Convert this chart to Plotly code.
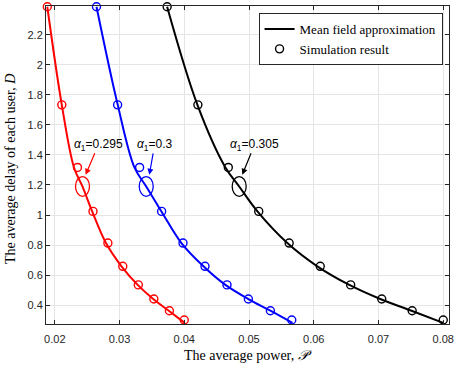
import plotly.graph_objects as go

# Simulation points (circles)
sim_delay = [2.388, 1.734, 1.317, 1.024, 0.813, 0.658, 0.534, 0.440, 0.362, 0.300]
sim_power_0295 = [0.01884, 0.02108, 0.0235, 0.0259, 0.0282, 0.0305, 0.0329, 0.0353, 0.0377, 0.0400]
sim_power_03 = [0.02644, 0.0297, 0.0331, 0.0365, 0.0398, 0.0432, 0.0466, 0.0499, 0.0533, 0.0566]
sim_power_0305 = [0.03735, 0.0421, 0.0468, 0.0515, 0.0562, 0.0610, 0.0657, 0.0705, 0.0752, 0.0800]

# Mean field approximation curves
mf_delay = [2.388, 1.734, 1.317, 1.190, 1.024, 0.813, 0.658, 0.534, 0.440, 0.362, 0.281]
mf_power_0295 = [0.01884, 0.02108, 0.02296, 0.02427, 0.02577, 0.0279, 0.0303, 0.0328, 0.0352, 0.0376, 0.04007]
mf_power_03 = [0.02644, 0.02972, 0.0323, 0.03412, 0.03647, 0.03956, 0.04296, 0.04635, 0.0499, 0.0533, 0.0567]
mf_power_0305 = [0.03735, 0.04203, 0.04635, 0.04848, 0.0513, 0.05592, 0.06055, 0.0655, 0.07028, 0.0751, 0.0800]

alpha_labels = ["0.295", "0.3", "0.305"]
colors = ["#ff0000", "#0000ff", "#000000"]

# marked operating point (ellipse centre) on each curve
mark_power = [0.02428, 0.03412, 0.04848]
mark_delay = 1.190

SERIF = "Liberation Serif"
SANS = "Liberation Sans"

fig = go.Figure()

curves = [(mf_power_0295, sim_power_0295), (mf_power_03, sim_power_03), (mf_power_0305, sim_power_0305)]
for i, (mf_x, sim_x) in enumerate(curves):
    is_black = i == 2
    fig.add_trace(go.Scatter(
        x=mf_x, y=mf_delay, mode="lines", line=dict(color=colors[i], width=2, shape="spline"),
        name="Mean field approximation", showlegend=is_black, legendrank=1,
    ))
    fig.add_trace(go.Scatter(
        x=sim_x, y=sim_delay, mode="markers", cliponaxis=False,
        marker=dict(symbol="circle-open", size=8, color=colors[i], line=dict(width=1.4)),
        name="Simulation result", showlegend=is_black, legendrank=2,
    ))

# text offset (px) of each alpha label from its arrow head
label_ax = [12.8, 5.3, 12.2]
for i, px_ in enumerate(mark_power):
    fig.add_shape(type="circle", xref="x", yref="y",
                  x0=px_ - 0.00108, x1=px_ + 0.00108,
                  y0=mark_delay - 0.066, y1=mark_delay + 0.066,
                  line=dict(color=colors[i], width=1.3))
    fig.add_annotation(x=px_ + 0.00048, y=mark_delay + 0.078, xref="x", yref="y",
                       text="<i>\u03b1</i><sub>1</sub>=" + alpha_labels[i],
                       font=dict(family=SANS, size=12, color="#000000"),
                       showarrow=True, ax=label_ax[i], ay=-30, arrowhead=2,
                       arrowsize=1, arrowwidth=1.2, arrowcolor=colors[i], borderpad=0)

axis_common = dict(
    showline=True, linecolor="#262626", linewidth=1, mirror="ticks",
    ticks="inside", ticklen=4, tickcolor="#262626",
    showgrid=True, gridcolor="#e5e5e5", gridwidth=1, zeroline=False,
    tickfont=dict(family=SANS, size=11, color="#262626"), automargin=False,
)

fig.update_xaxes(
    range=[0.01864, 0.08089], tickvals=[0.02, 0.03, 0.04, 0.05, 0.06, 0.07, 0.08],
    ticktext=["0.02", "0.03", "0.04", "0.05", "0.06", "0.07", "0.08"],
    ticklabelstandoff=5,
    **axis_common,
)
fig.update_yaxes(
    range=[0.2735, 2.393], tickvals=[0.4, 0.6, 0.8, 1, 1.2, 1.4, 1.6, 1.8, 2, 2.2],
    ticktext=["0.4", "0.6", "0.8", "1", "1.2", "1.4", "1.6", "1.8", "2", "2.2"],
    **axis_common,
)

# axis titles
fig.add_annotation(xref="paper", yref="paper", x=0.5, y=0, yshift=-31, yanchor="middle",
                   showarrow=False, text="The average power, <i>\U0001d4ab</i>",
                   font=dict(family=SERIF, size=14, color="#000000"))
fig.add_annotation(xref="paper", yref="paper", x=0, y=0.5, xshift=-36, yshift=-4,
                   xanchor="center", yanchor="middle", showarrow=False, textangle=-90,
                   text="The average delay of each user, <i>D</i>",
                   font=dict(family=SERIF, size=14, color="#000000"))

fig.update_layout(
    width=458, height=365,
    margin=dict(l=46, r=9, t=6, b=41),
    plot_bgcolor="white", paper_bgcolor="white",
    legend=dict(x=0.984, y=0.978, xanchor="right", yanchor="top",
                bgcolor="white", bordercolor="#262626", borderwidth=1,
                font=dict(family=SERIF, size=13, color="#000000"),
                tracegroupgap=0, itemwidth=30),
)

fig.write_html("out.html", config={"displayModeBar": False},
               post_script="document.body.style.margin='0';")
